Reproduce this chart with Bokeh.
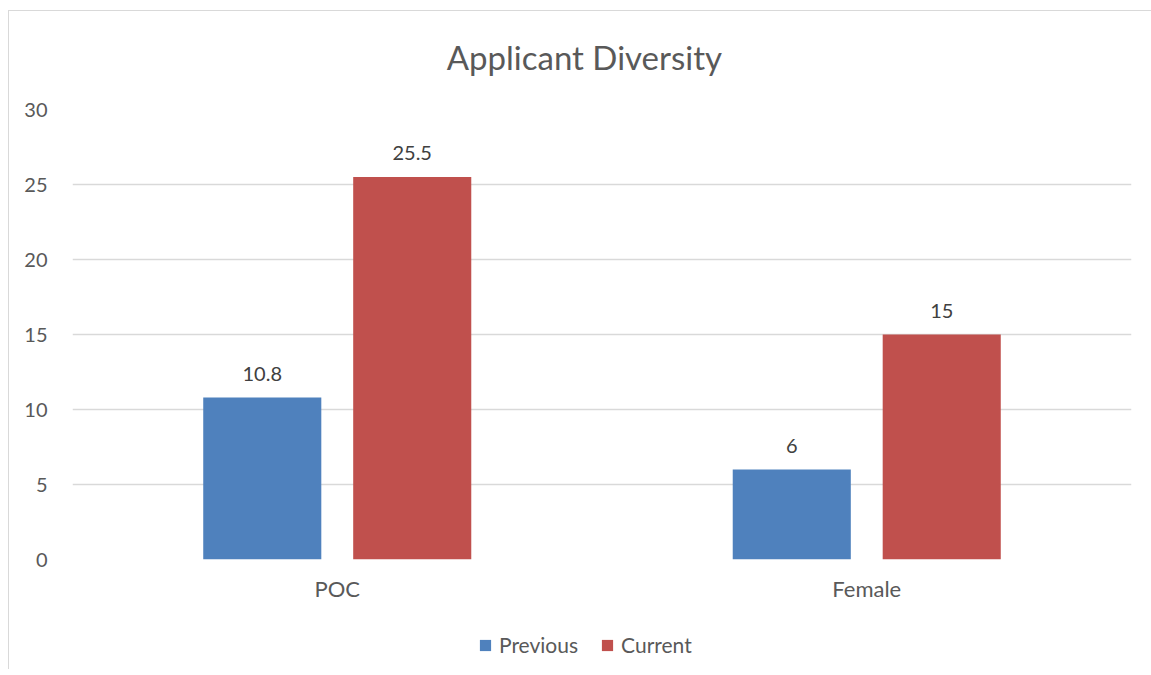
from bokeh.plotting import figure
from bokeh.layouts import column
from bokeh.models import (ColumnDataSource, Range1d, FixedTicker, Legend, LegendItem,
                          LabelSet, Label)
from bokeh.core.properties import value
from bokeh.embed import file_html
from bokeh.resources import INLINE

# ---- data ----
categories = ["POC", "Female"]
series_names = ["Previous", "Current"]
previous = [10.8, 6]
current = [25.5, 15]
y_ticks = [0, 5, 10, 15, 20, 25, 30]
title_text = "Applicant Diversity"

# ---- layout / style ----
FONT = "Lato"
TEXT = "#595959"
GRID = "#d9d9d9"
BLUE = "#4F81BD"
RED = "#C0504D"
cat_pos = [0.5 + i for i in range(len(categories))]
offset = 0.1416
bar_w = 0.223
W = 1142
TITLE_H = 80


def strip(height, xr, yr):
    f = figure(width=W, height=height, output_backend="svg", toolbar_location=None,
               x_range=xr, y_range=yr, x_axis_location=None, y_axis_location=None,
               min_border_left=0, min_border_right=0, min_border_top=0,
               min_border_bottom=0)
    f.outline_line_color = None
    f.xgrid.grid_line_color = None
    f.ygrid.grid_line_color = None
    f.background_fill_color = "white"
    f.border_fill_color = "white"
    return f


# ---- title strip ----
pt = strip(TITLE_H, Range1d(0, W), Range1d(TITLE_H, 0))
pt.add_layout(Label(x=552, y=45, text=title_text, text_align="center",
                    text_baseline="alphabetic", text_font=FONT,
                    text_font_size="33px", text_color=TEXT))

# ---- main chart ----
p = figure(width=W, height=528, output_backend="svg", toolbar_location=None,
           x_range=Range1d(0, len(categories)), y_range=Range1d(0, 30),
           min_border_left=63, min_border_right=20, min_border_top=18,
           min_border_bottom=60)
p.outline_line_color = None
p.background_fill_color = "white"
p.border_fill_color = "white"

src_prev = ColumnDataSource(dict(x=[c - offset for c in cat_pos], top=previous,
                                 lab=[f"{v:g}" for v in previous]))
src_cur = ColumnDataSource(dict(x=[c + offset for c in cat_pos], top=current,
                                lab=[f"{v:g}" for v in current]))

p.vbar(x="x", top="top", width=bar_w, source=src_prev, fill_color=BLUE, line_color=None)
p.vbar(x="x", top="top", width=bar_w, source=src_cur, fill_color=RED, line_color=None)

for src in (src_prev, src_cur):
    p.add_layout(LabelSet(x="x", y="top", text="lab", source=src, text_align="center",
                          text_baseline="alphabetic", y_offset=17,
                          text_font=value(FONT), text_font_size="20px",
                          text_color="#404040"))

p.xaxis.ticker = FixedTicker(ticks=cat_pos)
p.xaxis.major_label_overrides = {cat_pos[i]: categories[i] for i in range(len(categories))}
p.xaxis.axis_line_color = None
p.xaxis.major_tick_line_color = None
p.xaxis.minor_tick_line_color = None
p.xaxis.major_label_standoff = 9
p.xaxis.major_label_text_font = FONT
p.xaxis.major_label_text_font_size = "22px"
p.xaxis.major_label_text_color = TEXT

p.yaxis.ticker = FixedTicker(ticks=y_ticks)
p.yaxis.axis_line_color = None
p.yaxis.major_tick_line_color = None
p.yaxis.minor_tick_line_color = None
p.yaxis.major_label_standoff = 19
p.yaxis.major_label_text_font = FONT
p.yaxis.major_label_text_font_size = "20px"
p.yaxis.major_label_text_color = TEXT

p.xgrid.grid_line_color = None
p.ygrid.grid_line_color = GRID
p.ygrid.grid_line_width = 1.5

# ---- legend strip (swatch bars lie outside this strip's visible range) ----
pl = strip(50, Range1d(0, len(categories)), Range1d(1000, 1001))
sw_prev = pl.vbar(x=cat_pos, top=previous, width=bar_w, fill_color=BLUE, line_color=None)
sw_cur = pl.vbar(x=cat_pos, top=current, width=bar_w, fill_color=RED, line_color=None)
legend = Legend(items=[LegendItem(label=series_names[0], renderers=[sw_prev]),
                       LegendItem(label=series_names[1], renderers=[sw_cur])],
                orientation="horizontal", location=(406, 12),
                glyph_width=14, glyph_height=14, label_standoff=7, spacing=22,
                padding=0, margin=0, border_line_color=None,
                background_fill_alpha=0,
                label_text_font=FONT, label_text_font_size="21px",
                label_text_color=TEXT)
pl.add_layout(legend, "center")

layout = column(pt, p, pl, spacing=0)
layout.styles = {"border-top": "1px solid #d9d9d9", "border-left": "1px solid #d9d9d9",
                 "margin-top": "10px", "margin-left": "8px"}

open("out.html", "w").write(file_html(layout, INLINE))
